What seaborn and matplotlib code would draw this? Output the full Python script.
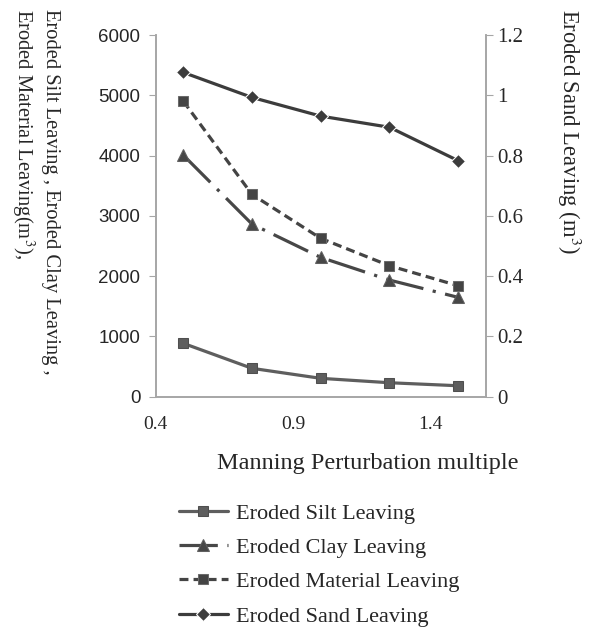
import matplotlib
matplotlib.use("Agg")
import matplotlib.pyplot as plt
import seaborn as sns
import numpy as np
import pandas as pd

# ---- data ----
manning = [0.5, 0.75, 1.0, 1.25, 1.5]
silt = [886, 471, 305, 232, 182]
clay = [4008, 2864, 2311, 1935, 1648]
material = [4904, 3356, 2627, 2173, 1841]
sand = [1.076, 0.993, 0.931, 0.894, 0.783]

left_ticks = [0, 1000, 2000, 3000, 4000, 5000, 6000]
right_ticks = [0, 0.2, 0.4, 0.6, 0.8, 1.0, 1.2]
right_ticklabels = ["0", "0.2", "0.4", "0.6", "0.8", "1", "1.2"]
x_ticks = [0.4, 0.9, 1.4]

labels = ["Eroded Silt Leaving", "Eroded Clay Leaving",
          "Eroded Material Leaving", "Eroded Sand Leaving"]

sns.set_style("white")
plt.rcParams["font.family"] = ["Liberation Serif", "DejaVu Serif"]
plt.rcParams["mathtext.fontset"] = "stix"

fig = plt.figure(figsize=(5.91, 6.37), dpi=100)
ax = fig.add_axes([0.2635, 0.3772, 0.5584, 0.5678])
ax2 = ax.twinx()

df = pd.DataFrame({"x": manning, "silt": silt, "clay": clay,
                   "material": material, "sand": sand})

lw = 2.3
ms = 7.5
sns.lineplot(data=df, x="x", y="silt", ax=ax, color="#5e5e5e", marker="s",
             markersize=ms, markeredgecolor="#4f4f4f", linewidth=lw, label=labels[0], legend=False)
sns.lineplot(data=df, x="x", y="clay", ax=ax, color="#474747", marker="^",
             markersize=ms + 1, markeredgecolor="#606060", linewidth=lw,
             dashes=False, linestyle=(0, (12, 3, 1, 3)), label=labels[1], legend=False)
sns.lineplot(data=df, x="x", y="material", ax=ax, color="#444444", marker="s",
             markersize=ms, markeredgecolor="#6a6a6a", linewidth=lw,
             dashes=False, linestyle=(0, (2.8, 1.6)), label=labels[2], legend=False)
sns.lineplot(data=df, x="x", y="sand", ax=ax2, color="#3c3c3c", marker="D",
             markersize=ms, linewidth=lw, label=labels[3], legend=False)

ax.set_xlim(0.4, 1.6)
ax.set_ylim(0, 6000)
ax2.set_ylim(0, 1.2)
ax.set_xticks(x_ticks)
ax.set_xticklabels([str(v) for v in x_ticks], fontsize=14)
ax.set_yticks(left_ticks)
ax.set_yticklabels([str(v) for v in left_ticks], fontsize=13.5,
                   family=["Liberation Sans", "DejaVu Sans"])
ax2.set_yticks(right_ticks)
ax2.set_yticklabels(right_ticklabels, fontsize=15)
ax.set_xlabel("")
ax.set_ylabel("")
ax2.set_ylabel("")

spine_col = "#a6a6a6"
for a in (ax, ax2):
    for s in a.spines.values():
        s.set_color(spine_col)
        s.set_linewidth(1.2)
    a.spines["top"].set_visible(False)
ax.tick_params(axis="y", direction="out", length=5, color=spine_col, pad=6, labelcolor="#262626")
ax.tick_params(axis="x", length=0, pad=14, labelcolor="#262626")
ax2.tick_params(axis="y", direction="out", length=5, color=spine_col, pad=3, labelcolor="#262626")
ax.grid(False)
ax2.grid(False)

fig.text(368 / 591, 1 - 463 / 637, "Manning Perturbation multiple",
         ha="center", va="center", fontsize=17.5, color="#262626")
fig.text(35 / 591, 1 - 9 / 637,
         "Eroded Silt Leaving , Eroded Clay Leaving ,\nEroded Material Leaving(m$^3$),",
         rotation=270, ha="center", va="top", multialignment="left",
         fontsize=14.8, color="#262626", linespacing=1.2)
fig.text(569 / 591, 1 - 9 / 637, "Eroded Sand Leaving (m$^3$)",
         rotation=270, ha="center", va="top", fontsize=16.3, color="#262626")

h1, l1 = ax.get_legend_handles_labels()
h2, l2 = ax2.get_legend_handles_labels()
fig.legend(h1 + h2, l1 + l2, loc="upper left",
           bbox_to_anchor=(179 / 591, 1 - 503 / 637), frameon=False,
           fontsize=16, handlelength=2.2, handletextpad=0.35, labelspacing=0.62,
           borderaxespad=0, borderpad=0)

fig.savefig("out.png", dpi=100)
